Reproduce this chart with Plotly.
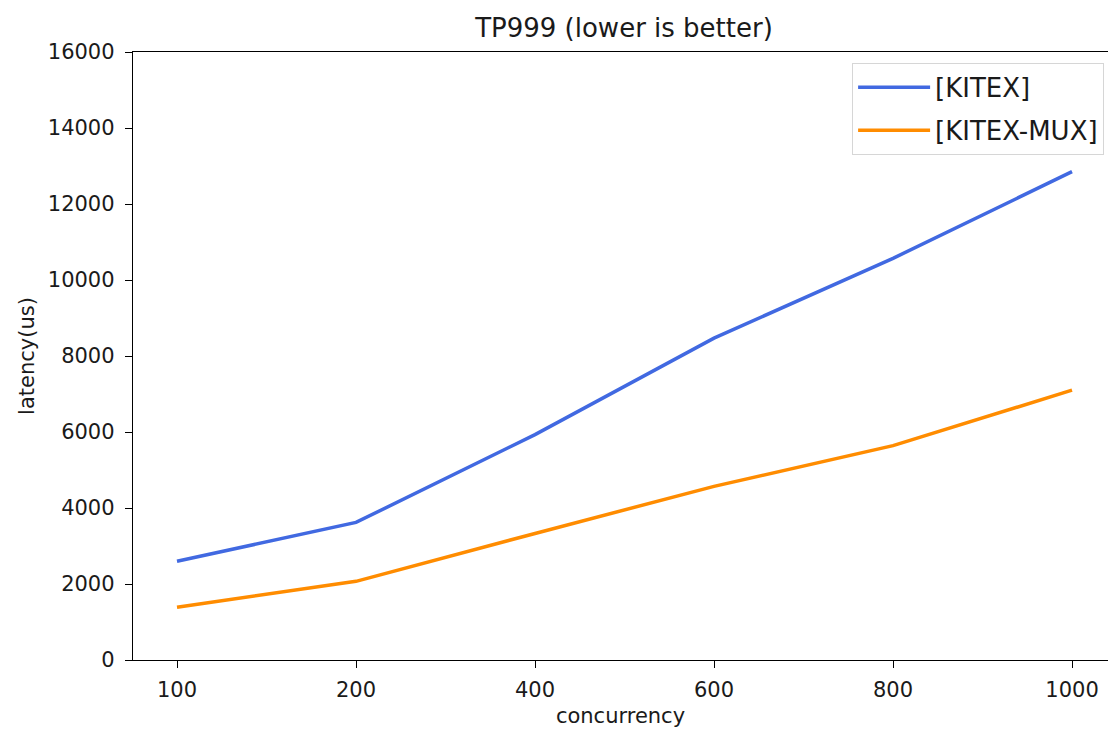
import plotly.graph_objects as go

concurrency = ["100", "200", "400", "600", "800", "1000"]
kitex = [2600, 3620, 5930, 8470, 10570, 12850]
kitex_mux = [1390, 2070, 3330, 4570, 5640, 7100]
y_ticks = [0, 2000, 4000, 6000, 8000, 10000, 12000, 14000, 16000]

FONT = "DejaVu Sans"
TXT = "#1a1a1a"
TICK = 21
BIG = 26

fig = go.Figure()
fig.add_trace(go.Scatter(x=concurrency, y=kitex, mode="lines", name="[KITEX]",
                         legendgroup="a",
                         line=dict(color="#4169E1", width=3.5)))
fig.add_trace(go.Scatter(x=concurrency, y=kitex_mux, mode="lines", name="[KITEX-MUX]",
                         legendgroup="b",
                         line=dict(color="#FF8C00", width=3.5)))

fig.update_layout(
    width=1108, height=729,
    margin=dict(l=133, r=0, t=52, b=69),
    paper_bgcolor="white", plot_bgcolor="white",
    font=dict(family=FONT, size=TICK, color=TXT),
    title=dict(text="TP999 (lower is better)", x=(624 / 1108), xanchor="center",
               y=1 - 28 / 729, yanchor="middle",
               font=dict(family=FONT, size=BIG, color=TXT)),
    showlegend=True,
    legend=dict(x=0.996, xanchor="right", y=0.982, yanchor="top",
                bgcolor="rgba(255,255,255,0.9)", bordercolor="#d6d6d6", borderwidth=1,
                font=dict(family=FONT, size=BIG, color=TXT),
                tracegroupgap=6, itemwidth=72),
    xaxis=dict(type="category", range=[-0.2458, 5.201],
               showline=True, linecolor="black", linewidth=1.4, mirror=True,
               ticks="outside", ticklen=7, tickwidth=1.4, tickcolor="black",
               ticklabelstandoff=4,
               showgrid=False, zeroline=False,
               tickfont=dict(family=FONT, size=TICK, color=TXT),
               title=dict(text="concurrency", font=dict(family=FONT, size=TICK, color=TXT), standoff=6)),
    yaxis=dict(range=[0, 16000], tickvals=y_ticks, ticktext=[str(v) for v in y_ticks],
               showline=True, linecolor="black", linewidth=1.4,
               ticks="outside", ticklen=7, tickwidth=1.4, tickcolor="black",
               ticklabelstandoff=6,
               showgrid=False, zeroline=False,
               tickfont=dict(family=FONT, size=TICK, color=TXT),
               title=dict(text="latency(us)", font=dict(family=FONT, size=TICK, color=TXT), standoff=7)),
)

fig.write_html("out.html", config={"displayModeBar": False},
               post_script="document.body.style.margin='0px';document.body.style.overflow='hidden';")
